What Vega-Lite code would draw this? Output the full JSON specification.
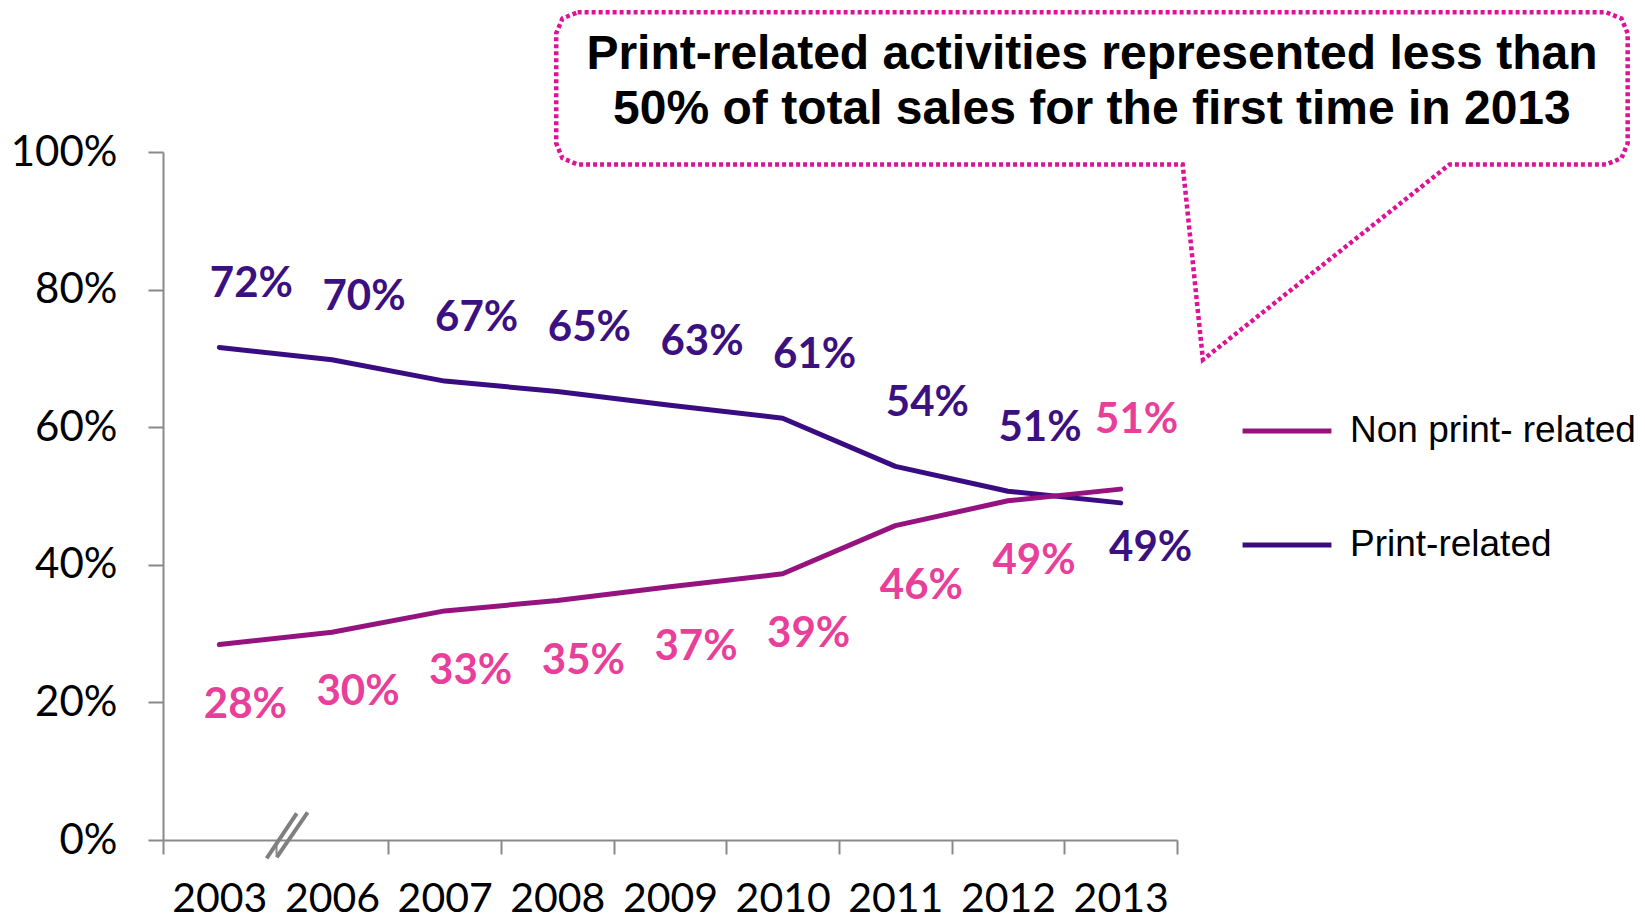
{
  "$schema": "https://vega.github.io/schema/vega-lite/v6.json",
  "width": 1014,
  "height": 688,
  "autosize": {"type": "none"},
  "padding": {"left": 163, "top": 152, "right": 468, "bottom": 81},
  "background": "white",
  "config": {"view": {"stroke": null}, "font": "Lato"},
  "datasets": {
    "sales": [
      {"year": "2003", "series": "Print-related", "share": 0.716},
      {"year": "2006", "series": "Print-related", "share": 0.698},
      {"year": "2007", "series": "Print-related", "share": 0.667},
      {"year": "2008", "series": "Print-related", "share": 0.652},
      {"year": "2009", "series": "Print-related", "share": 0.632},
      {"year": "2010", "series": "Print-related", "share": 0.613},
      {"year": "2011", "series": "Print-related", "share": 0.543},
      {"year": "2012", "series": "Print-related", "share": 0.507},
      {"year": "2013", "series": "Print-related", "share": 0.49},
      {"year": "2003", "series": "Non print- related", "share": 0.284},
      {"year": "2006", "series": "Non print- related", "share": 0.302},
      {"year": "2007", "series": "Non print- related", "share": 0.333},
      {"year": "2008", "series": "Non print- related", "share": 0.348},
      {"year": "2009", "series": "Non print- related", "share": 0.368},
      {"year": "2010", "series": "Non print- related", "share": 0.387},
      {"year": "2011", "series": "Non print- related", "share": 0.457},
      {"year": "2012", "series": "Non print- related", "share": 0.493},
      {"year": "2013", "series": "Non print- related", "share": 0.51}
    ],
    "callout": [
      {"order": 1, "cx": 3.68, "cy": 1.203},
      {"order": 2, "cx": 12.81, "cy": 1.203},
      {"order": 3, "cx": 12.945, "cy": 1.194},
      {"order": 4, "cx": 13.0, "cy": 1.1725},
      {"order": 5, "cx": 13.0, "cy": 1.0125},
      {"order": 6, "cx": 12.945, "cy": 0.991},
      {"order": 7, "cx": 12.81, "cy": 0.982},
      {"order": 8, "cx": 11.42, "cy": 0.982},
      {"order": 9, "cx": 9.23, "cy": 0.698},
      {"order": 10, "cx": 9.05, "cy": 0.982},
      {"order": 11, "cx": 3.68, "cy": 0.982},
      {"order": 12, "cx": 3.545, "cy": 0.991},
      {"order": 13, "cx": 3.49, "cy": 1.0125},
      {"order": 14, "cx": 3.49, "cy": 1.1725},
      {"order": 15, "cx": 3.545, "cy": 1.194},
      {"order": 16, "cx": 3.68, "cy": 1.203}
    ],
    "calloutText": [
      {"cx": 8.245, "cy": 1.12, "label": "Print-related activities represented less than"},
      {"cx": 8.245, "cy": 1.04, "label": "50% of total sales for the first time in 2013"}
    ],
    "breaks": [
      {"bx": 0.92, "by": -0.0267, "bx2": 1.187, "by2": 0.0388},
      {"bx": 1.009, "by": -0.0252, "bx2": 1.284, "by2": 0.0402}
    ]
  },
  "layer": [
    {
      "data": {"name": "sales"},
      "encoding": {
        "x": {
          "field": "year",
          "type": "ordinal",
          "scale": {"type": "band", "paddingInner": 0, "paddingOuter": 0},
          "axis": {
            "title": null,
            "labelAngle": 0,
            "labelFont": "Lato",
            "labelFontSize": 41,
            "labelColor": "black",
            "labelPadding": 25,
            "tickBand": "extent",
            "tickSize": 14,
            "tickWidth": 2,
            "tickColor": "#898989",
            "domainColor": "#898989",
            "domainWidth": 2,
            "grid": false
          }
        },
        "y": {
          "field": "share",
          "type": "quantitative",
          "scale": {"domain": [0, 1], "nice": false},
          "axis": {
            "title": null,
            "values": [0, 0.2, 0.4, 0.6, 0.8, 1],
            "format": ".0%",
            "labelFont": "Lato",
            "labelFontSize": 42,
            "labelColor": "black",
            "labelPadding": 31,
            "tickSize": 15,
            "tickWidth": 2,
            "tickColor": "#898989",
            "domainColor": "#898989",
            "domainWidth": 2,
            "grid": false
          }
        }
      },
      "layer": [
        {
          "mark": {"type": "line", "strokeWidth": 5, "strokeCap": "round", "strokeJoin": "round"},
          "encoding": {
            "color": {
              "field": "series",
              "type": "nominal",
              "scale": {"domain": ["Non print- related", "Print-related"], "range": ["#95137F", "#3A0C82"]},
              "legend": {
                "title": null,
                "orient": "none",
                "legendX": 1077,
                "legendY": 232,
                "symbolType": "stroke",
                "symbolStrokeWidth": 5,
                "symbolSize": 7900,
                "labelFont": "Liberation Sans",
                "labelFontSize": 37,
                "labelColor": "black",
                "rowPadding": 49,
                "labelOffset": 16,
                "labelLimit": 400
              }
            }
          }
        },
        {
          "transform": [{"filter": "datum.series == 'Print-related' && datum.year != '2013'"}],
          "mark": {"type": "text", "font": "Lato", "fontWeight": "bold", "fontSize": 42, "color": "#3B1080", "dx": 32, "dy": -63, "align": "center", "baseline": "middle"},
          "encoding": {"text": {"field": "share", "type": "quantitative", "format": ".0%"}}
        },
        {
          "transform": [{"filter": "datum.series == 'Print-related' && datum.year == '2013'"}],
          "mark": {"type": "text", "font": "Lato", "fontWeight": "bold", "fontSize": 42, "color": "#3B1080", "dx": 30, "dy": 45, "align": "center", "baseline": "middle"},
          "encoding": {"text": {"field": "share", "type": "quantitative", "format": ".0%"}}
        },
        {
          "transform": [{"filter": "datum.series == 'Non print- related' && datum.year != '2013'"}],
          "mark": {"type": "text", "font": "Lato", "fontWeight": "bold", "fontSize": 42, "color": "#E8409A", "dx": 26, "dy": 60, "align": "center", "baseline": "middle"},
          "encoding": {"text": {"field": "share", "type": "quantitative", "format": ".0%"}}
        },
        {
          "transform": [{"filter": "datum.series == 'Non print- related' && datum.year == '2013'"}],
          "mark": {"type": "text", "font": "Lato", "fontWeight": "bold", "fontSize": 42, "color": "#E8409A", "dx": 16, "dy": -69, "align": "center", "baseline": "middle"},
          "encoding": {"text": {"field": "share", "type": "quantitative", "format": ".0%"}}
        }
      ]
    },
    {
      "layer": [
        {
          "data": {"name": "callout"},
          "mark": {"type": "line", "color": "#DD1296", "strokeWidth": 4.5, "strokeDash": [4, 3], "clip": false},
          "encoding": {
            "x": {"field": "cx", "type": "quantitative", "scale": {"domain": [0, 9], "nice": false, "zero": false}, "axis": null},
            "y": {"field": "cy", "type": "quantitative", "scale": {"domain": [0, 1], "nice": false}, "axis": null},
            "order": {"field": "order", "type": "quantitative"}
          }
        },
        {
          "data": {"name": "calloutText"},
          "mark": {"type": "text", "font": "Liberation Sans", "fontWeight": "bold", "fontSize": 48, "color": "black", "align": "center", "baseline": "alphabetic", "clip": false},
          "encoding": {
            "x": {"field": "cx", "type": "quantitative"},
            "y": {"field": "cy", "type": "quantitative"},
            "text": {"field": "label"}
          }
        },
        {
          "data": {"name": "breaks"},
          "mark": {"type": "rule", "color": "#808080", "strokeWidth": 4, "clip": false},
          "encoding": {
            "x": {"field": "bx", "type": "quantitative"},
            "x2": {"field": "bx2"},
            "y": {"field": "by", "type": "quantitative"},
            "y2": {"field": "by2"}
          }
        }
      ]
    }
  ],
  "resolve": {"scale": {"x": "independent", "y": "independent"}}
}
